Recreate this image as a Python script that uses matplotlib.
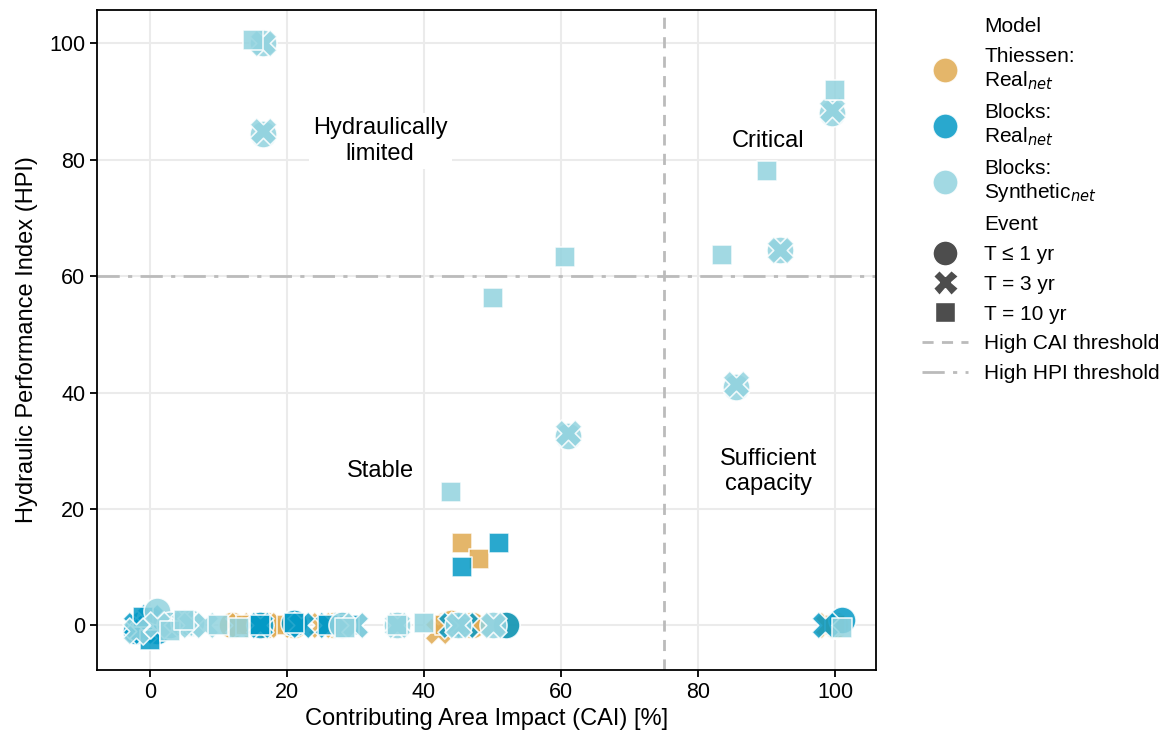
import matplotlib
matplotlib.use("Agg")
import matplotlib.pyplot as plt
from matplotlib.lines import Line2D

plt.rcParams["font.family"] = ["Liberation Sans", "DejaVu Sans"]

# CAI [%] and HPI per model and event
thiessen_t1_cai = [0, 2, 12, 17, 21, 27, 43, 44, 47, 52, 100]
thiessen_t1_hpi = [0, 0, 0, 0, 0, 0, 0, 0.5, 0, 0, 0]
thiessen_t3_cai = [0, 13, 19, 25, 42, 48, 99]
thiessen_t3_hpi = [0, 0, 0, 0, -1, 0, 0]
thiessen_t10_cai = [1, 14, 20, 28, 43, 45.5, 48, 100]
thiessen_t10_hpi = [0, 0, 0, 0, 0, 14.2, 11.5, 0]

blocks_t1_cai = [-2, -1, 0, 1, 3, 16, 21, 28, 45, 52, 101]
blocks_t1_hpi = [-1, 0.5, 1, -1, 0, 0, 0.5, 0, 0, 0, 1]
blocks_t3_cai = [-2, -1, 0, 16, 22, 26, 30, 44, 46, 98.5]
blocks_t3_hpi = [0, -1, 1.5, 0, 0, 0, 0, 0, 0, 0]
blocks_t10_cai = [-1, 0, 16, 21, 26, 29, 45.5, 51]
blocks_t10_hpi = [1.5, -2.5, 0, 0.5, 0, 0, 10, 14.2]

synth_t1_cai = [1, 3, 5, 6, 16.5, 16.5, 28, 36, 45, 50, 61, 85.5, 92, 99.5]
synth_t1_hpi = [2.5, 0, 0.5, 0.5, 100, 84.5, 0, 0, 0, 0, 32.5, 41, 64.5, 88]
synth_t3_cai = [-2, 1, 5, 6, 8, 16.5, 16.5, 30, 36, 45, 50, 61, 85.5, 92, 99.5]
synth_t3_hpi = [-1, 0, 0.5, 0, 0, 100, 85, 0, 0, 0, 0, 33, 41.5, 64.5, 88.5]
synth_t10_cai = [3, 5, 10, 13, 15, 28.5, 36, 40, 44, 50, 60.5, 83.5, 90, 100, 101]
synth_t10_hpi = [-1, 1, 0, -0.5, 100.5, -0.5, 0, 0.5, 23, 56.3, 63.3, 63.7, 78, 92, -0.5]

model_labels = ["Thiessen:\nReal$_{net}$", "Blocks:\nReal$_{net}$", "Blocks:\nSynthetic$_{net}$"]
event_labels = ["T ≤ 1 yr", "T = 3 yr", "T = 10 yr"]
colors = ["#e0aa50", "#0399c6", "#92d3df"]
markers = ["o", "X", "s"]
marker_sizes = {"o": 380, "X": 380, "s": 190}

series = [
    [(thiessen_t1_cai, thiessen_t1_hpi), (thiessen_t3_cai, thiessen_t3_hpi), (thiessen_t10_cai, thiessen_t10_hpi)],
    [(blocks_t1_cai, blocks_t1_hpi), (blocks_t3_cai, blocks_t3_hpi), (blocks_t10_cai, blocks_t10_hpi)],
    [(synth_t1_cai, synth_t1_hpi), (synth_t3_cai, synth_t3_hpi), (synth_t10_cai, synth_t10_hpi)],
]

fig = plt.figure(figsize=(11.7, 7.4), dpi=100)
ax = fig.add_axes([0.083, 0.095, 0.666, 0.892])

for m, model in enumerate(series):
    for e, (x, y) in enumerate(model):
        ax.scatter(x, y, s=marker_sizes[markers[e]], marker=markers[e], color=colors[m],
                   edgecolor="white", linewidth=1.2, alpha=0.85, zorder=3)

# thresholds
ax.axvline(75, color="#bbbbbb", linestyle=(0, (4, 3)), linewidth=2, zorder=1)
ax.axhline(60, color="#bbbbbb", linestyle=(0, (8, 3, 1.5, 3)), linewidth=2, zorder=1)

box = dict(facecolor="white", edgecolor="none", pad=3)
ax.text(33.6, 83.2, "Hydraulically\nlimited", ha="center", va="center", fontsize=17, bbox=box, zorder=2)
ax.text(90.2, 83.2, "Critical", ha="center", va="center", fontsize=17, bbox=box, zorder=2)
ax.text(33.6, 26.5, "Stable", ha="center", va="center", fontsize=17, bbox=box, zorder=2)
ax.text(90.2, 26.5, "Sufficient\ncapacity", ha="center", va="center", fontsize=17, bbox=box, zorder=2)

ax.set_xlim(-7.7, 106)
ax.set_ylim(-7.6, 105.8)
ax.set_xticks([0, 20, 40, 60, 80, 100])
ax.set_yticks([0, 20, 40, 60, 80, 100])
ax.grid(True, color="#ebebeb", linewidth=1.5, zorder=0)
ax.set_axisbelow(True)
ax.tick_params(labelsize=15.5, direction="out", length=5, width=1.3)
ax.set_xlabel("Contributing Area Impact (CAI) [%]", fontsize=17, labelpad=4)
ax.set_ylabel("Hydraulic Performance Index (HPI)", fontsize=17, labelpad=8)
for sp in ax.spines.values():
    sp.set_linewidth(1.3)

# legend
blank = Line2D([], [], linestyle="none")
handles = [blank]
labels = ["Model"]
for c, lab in zip(colors, model_labels):
    handles.append(Line2D([], [], marker="o", linestyle="none", markersize=18,
                          markerfacecolor=c, markeredgecolor="white", alpha=0.85))
    labels.append(lab)
handles.append(blank)
labels.append("Event")
for mk, lab in zip(markers, event_labels):
    handles.append(Line2D([], [], marker=mk, linestyle="none",
                          markersize=18 if mk != "s" else 14,
                          markerfacecolor="#4d4d4d", markeredgecolor="white"))
    labels.append(lab)
handles.append(Line2D([], [], color="#bbbbbb", linestyle=(0, (4, 3)), linewidth=2))
labels.append("High CAI threshold")
handles.append(Line2D([], [], color="#bbbbbb", linestyle=(0, (8, 3, 1.5, 3)), linewidth=2))
labels.append("High HPI threshold")

fig.legend(handles, labels, loc="upper left", bbox_to_anchor=(0.772, 1.002),
           frameon=False, fontsize=15, handlelength=2.2, labelspacing=0.52,
           handletextpad=0.8)

fig.savefig("out.png", dpi=100)
